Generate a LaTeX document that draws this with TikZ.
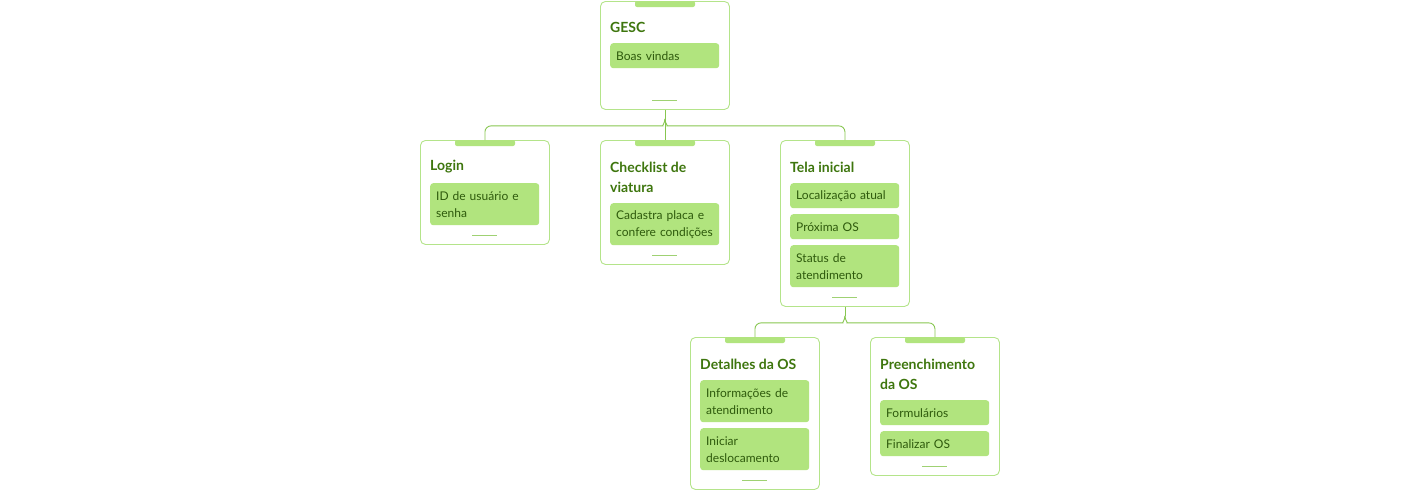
\documentclass[tikz,border=0pt]{standalone}
\usepackage{fontspec}
\setmainfont{Lato}
\usepackage{tikz}
\usetikzlibrary{positioning,calc}
\definecolor{mapLine}{RGB}{135,198,80}
\definecolor{mapBorder}{RGB}{180,228,138}
\definecolor{mapFill}{RGB}{177,228,126}
\definecolor{mapTitle}{RGB}{62,118,14}
\definecolor{mapText}{RGB}{46,90,12}
\tikzset{
  card/.style={draw=mapBorder, line width=0.9pt, rounded corners=5pt, fill=white,
    anchor=north west, minimum width=129pt, inner sep=0pt},
  cardtab/.style={fill=mapFill, rounded corners=2pt},
  carddash/.style={draw=mapLine!80, line width=1pt},
  ttl/.style={anchor=west, inner sep=0pt, text=mapTitle, align=left,
    font=\fontsize{14}{20}\selectfont\bfseries},
  item/.style={anchor=north west, fill=mapFill, rounded corners=3pt, text=mapText,
    font=\fontsize{12}{17}\selectfont, text width=97pt, inner xsep=6pt, inner ysep=0pt,
    align=left, minimum height=25pt},
  link/.style={draw=mapLine, line width=0.9pt},
}

\begin{document}
\begin{tikzpicture}[x=1pt,y=-1pt]
  \useasboundingbox (0,0) rectangle (1420,491);
  % cards
  \node[card, minimum height=108pt] (gesc)  at (600,1) {};
  \node[card, minimum height=104pt] (login) at (420,140) {};
  \node[card, minimum height=124pt] (check) at (600,140) {};
  \node[card, minimum height=166pt] (tela)  at (780,140) {};
  \node[card, minimum height=152pt] (det)   at (690,337) {};
  \node[card, minimum height=138pt] (pre)   at (870,337) {};
  \foreach \c in {gesc,login,check,tela,det,pre} {
    \fill[cardtab] ($(\c.north west)+(35,0)$) rectangle ++(60,6);
    \draw[carddash] ($(\c.south)+(-12.5,-9)$) -- ++(25,0);
  }
  % titles
  \node[ttl] (gescT)  at (610,27)  {GESC};
  \node[ttl] (loginT) at (430,167) {Login};
  \node[ttl] (checkT) at (610,177) {Checklist de\\viatura};
  \node[ttl] (telaT)  at (790,167) {Tela inicial};
  \node[ttl] (detT)   at (700,364) {Detalhes da OS};
  \node[ttl] (preT)   at (880,374) {Preenchimento\\da OS};
  % items
  \node[item] (gesc1)  at (610,43)  {Boas vindas};
  \node[item, minimum height=42pt] (login1) at (430,183) {ID de usuário e\\senha};
  \node[item, minimum height=42pt] (check1) at (610,203) {Cadastra placa e\\confere condições};
  \node[item] (tela1)  at (790,183) {Localização atual};
  \node[item] (tela2)  at (790,214) {Próxima OS};
  \node[item, minimum height=42pt] (tela3) at (790,245) {Status de\\atendimento};
  \node[item, minimum height=42pt] (det1) at (700,380) {Informações de\\atendimento};
  \node[item, minimum height=42pt] (det2) at (700,428) {Iniciar\\deslocamento};
  \node[item] (pre1)   at (880,400) {Formulários};
  \node[item] (pre2)   at (880,431) {Finalizar OS};
  % braces
  \coordinate (gescJ) at ($(gesc.south)+(0,9)$);
  \coordinate (telaJ) at ($(tela.south)+(0,9)$);
  \draw[link] (gesc.south) -- (check.north);
  \draw[link] (login.north) [rounded corners=6pt] |- ($(gescJ)+(-8,7)$) [sharp corners]
    .. controls +(5,0) and +(0,4) .. (gescJ);
  \draw[link] (tela.north) [rounded corners=6pt] |- ($(gescJ)+(8,7)$) [sharp corners]
    .. controls +(-5,0) and +(0,4) .. (gescJ);
  \draw[link] (tela.south) -- (telaJ);
  \draw[link] (det.north) [rounded corners=6pt] |- ($(telaJ)+(-8,7)$) [sharp corners]
    .. controls +(5,0) and +(0,4) .. (telaJ);
  \draw[link] (pre.north) [rounded corners=6pt] |- ($(telaJ)+(8,7)$) [sharp corners]
    .. controls +(-5,0) and +(0,4) .. (telaJ);
\end{tikzpicture}
\end{document}
